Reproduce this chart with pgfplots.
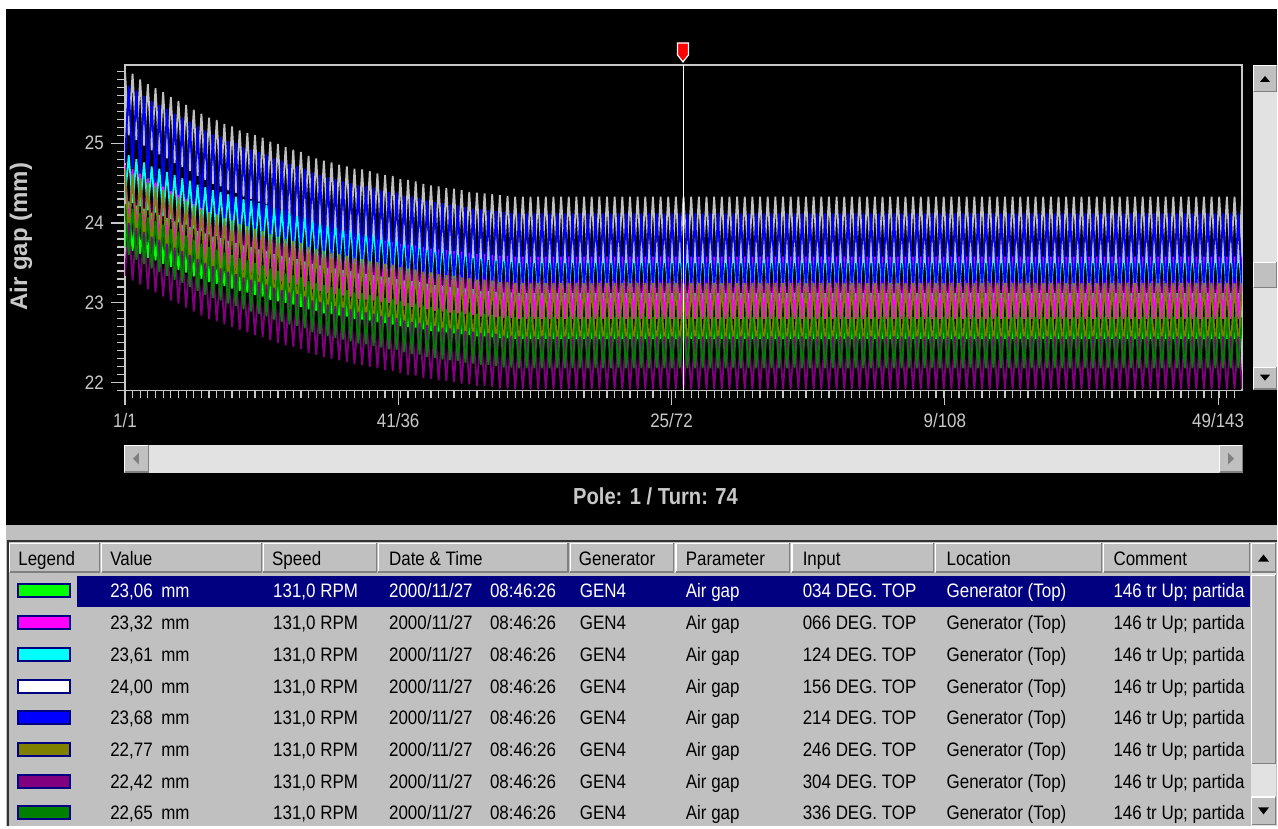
\documentclass[border=0pt]{standalone}
\usepackage{pgfplots}
\pgfplotsset{compat=1.18}
\usepackage{pgfplotstable}
\usepackage{fontspec}
\setmainfont{Liberation Sans}
\newfontfamily\uif{Liberation Sans}[FakeStretch=0.87]
\newcommand\uisize{\fontsize{9.75pt}{11pt}\selectfont}
\definecolor{lg}{RGB}{200,200,200}
\definecolor{sg}{RGB}{0,255,0}
\definecolor{sm}{RGB}{255,0,255}
\definecolor{sc}{RGB}{0,255,255}
\definecolor{sw}{RGB}{192,192,192}
\definecolor{sb}{RGB}{0,0,255}
\definecolor{so}{RGB}{128,128,0}
\definecolor{sp}{RGB}{128,0,128}
\definecolor{sd}{RGB}{0,128,0}
\definecolor{navy}{RGB}{0,0,128}
\definecolor{btn}{RGB}{192,192,192}
\definecolor{dk}{RGB}{128,128,128}
\definecolor{dith}{RGB}{226,226,226}

\pgfplotstableread{
g m c w b o p d
23.70 24.73 24.30 25.93 24.75 24.67 23.34 24.24
24.27 23.95 24.85 25.10 25.72 23.82 24.00 23.60
23.65 24.68 24.25 25.87 24.69 24.61 23.28 24.18
24.22 23.90 24.80 25.04 25.66 23.76 23.94 23.54
23.61 24.64 24.21 25.80 24.62 24.56 23.23 24.13
24.18 23.86 24.76 24.97 25.59 23.71 23.89 23.49
23.56 24.59 24.16 25.74 24.56 24.50 23.17 24.07
24.13 23.81 24.71 24.91 25.53 23.65 23.83 23.43
23.53 24.56 24.13 25.69 24.51 24.46 23.13 24.03
24.10 23.78 24.68 24.86 25.48 23.61 23.79 23.39
23.49 24.52 24.09 25.64 24.46 24.41 23.08 23.98
24.06 23.74 24.64 24.81 25.43 23.56 23.74 23.34
23.45 24.48 24.05 25.58 24.40 24.36 23.03 23.93
24.02 23.70 24.60 24.75 25.37 23.51 23.69 23.29
23.41 24.44 24.01 25.53 24.35 24.32 22.99 23.89
23.98 23.66 24.56 24.70 25.32 23.47 23.65 23.25
23.38 24.41 23.98 25.48 24.30 24.27 22.94 23.84
23.95 23.63 24.53 24.65 25.27 23.42 23.60 23.20
23.33 24.36 23.93 25.42 24.24 24.22 22.89 23.79
23.90 23.58 24.48 24.59 25.21 23.37 23.55 23.15
23.30 24.33 23.90 25.37 24.19 24.17 22.84 23.74
23.87 23.55 24.45 24.54 25.16 23.32 23.50 23.10
23.26 24.29 23.86 25.32 24.14 24.13 22.80 23.70
23.83 23.51 24.41 24.49 25.11 23.28 23.46 23.06
23.24 24.27 23.84 25.29 24.11 24.10 22.77 23.67
23.81 23.49 24.39 24.46 25.08 23.25 23.43 23.03
23.21 24.24 23.81 25.24 24.06 24.06 22.73 23.63
23.78 23.46 24.36 24.41 25.03 23.21 23.39 22.99
23.18 24.21 23.78 25.21 24.03 24.03 22.70 23.60
23.75 23.43 24.33 24.38 25.00 23.18 23.36 22.96
23.15 24.18 23.75 25.16 23.98 23.99 22.66 23.56
23.72 23.40 24.30 24.33 24.95 23.14 23.32 22.92
23.13 24.16 23.73 25.13 23.95 23.96 22.63 23.53
23.70 23.38 24.28 24.30 24.92 23.11 23.29 22.89
23.10 24.13 23.70 25.10 23.92 23.93 22.60 23.50
23.67 23.35 24.25 24.27 24.89 23.08 23.26 22.86
23.08 24.11 23.68 25.07 23.89 23.90 22.57 23.47
23.65 23.33 24.23 24.24 24.86 23.05 23.23 22.83
23.04 24.07 23.64 25.02 23.84 23.86 22.53 23.43
23.61 23.29 24.19 24.19 24.81 23.01 23.19 22.79
23.02 24.05 23.62 24.99 23.81 23.83 22.50 23.40
23.59 23.27 24.17 24.16 24.78 22.98 23.16 22.76
23.00 24.03 23.60 24.95 23.77 23.80 22.47 23.37
23.57 23.25 24.15 24.12 24.74 22.95 23.13 22.73
22.98 24.01 23.58 24.92 23.74 23.78 22.45 23.35
23.55 23.23 24.13 24.09 24.71 22.93 23.11 22.71
22.95 23.98 23.55 24.89 23.71 23.75 22.42 23.32
23.52 23.20 24.10 24.06 24.68 22.90 23.08 22.68
22.92 23.95 23.52 24.84 23.66 23.70 22.37 23.27
23.49 23.17 24.07 24.01 24.63 22.85 23.03 22.63
22.90 23.93 23.50 24.81 23.63 23.68 22.35 23.25
23.47 23.15 24.05 23.98 24.60 22.83 23.01 22.61
22.87 23.90 23.47 24.78 23.60 23.65 22.32 23.22
23.44 23.12 24.02 23.95 24.57 22.80 22.98 22.58
22.86 23.89 23.46 24.76 23.58 23.63 22.30 23.20
23.43 23.11 24.01 23.93 24.55 22.78 22.96 22.56
22.84 23.87 23.44 24.73 23.55 23.61 22.28 23.18
23.41 23.09 23.99 23.90 24.52 22.76 22.94 22.54
22.83 23.86 23.43 24.71 23.53 23.59 22.26 23.16
23.40 23.08 23.98 23.88 24.50 22.74 22.92 22.52
22.80 23.83 23.40 24.68 23.50 23.56 22.23 23.13
23.37 23.05 23.95 23.85 24.47 22.71 22.89 22.49
22.79 23.82 23.39 24.67 23.49 23.55 22.22 23.12
23.36 23.04 23.94 23.84 24.46 22.70 22.88 22.48
22.78 23.81 23.38 24.65 23.47 23.53 22.20 23.10
23.35 23.03 23.93 23.82 24.44 22.68 22.86 22.46
22.76 23.79 23.36 24.62 23.44 23.51 22.18 23.08
23.33 23.01 23.91 23.79 24.41 22.66 22.84 22.44
22.75 23.78 23.35 24.60 23.42 23.49 22.16 23.06
23.32 23.00 23.90 23.77 24.39 22.64 22.82 22.42
22.73 23.76 23.33 24.59 23.41 23.48 22.15 23.05
23.30 22.98 23.88 23.76 24.38 22.63 22.81 22.41
22.71 23.74 23.31 24.55 23.37 23.45 22.12 23.02
23.28 22.96 23.86 23.72 24.34 22.60 22.78 22.38
22.70 23.73 23.30 24.54 23.36 23.43 22.10 23.00
23.27 22.95 23.85 23.71 24.33 22.58 22.76 22.36
22.69 23.72 23.29 24.52 23.34 23.42 22.09 22.99
23.26 22.94 23.84 23.69 24.31 22.57 22.75 22.35
22.67 23.70 23.27 24.49 23.31 23.39 22.06 22.96
23.24 22.92 23.82 23.66 24.28 22.54 22.72 22.32
22.65 23.68 23.25 24.47 23.29 23.38 22.05 22.95
23.22 22.90 23.80 23.64 24.26 22.53 22.71 22.31
22.64 23.67 23.24 24.46 23.28 23.36 22.03 22.93
23.21 22.89 23.79 23.63 24.25 22.51 22.69 22.29
22.63 23.66 23.23 24.44 23.26 23.35 22.02 22.92
23.20 22.88 23.78 23.61 24.23 22.50 22.68 22.28
22.62 23.65 23.22 24.43 23.25 23.34 22.01 22.91
23.19 22.87 23.77 23.60 24.22 22.49 22.67 22.27
22.61 23.64 23.21 24.41 23.23 23.32 21.99 22.89
23.18 22.86 23.76 23.58 24.20 22.47 22.65 22.25
22.60 23.63 23.20 24.39 23.21 23.31 21.98 22.88
23.17 22.85 23.75 23.56 24.18 22.46 22.64 22.24
22.58 23.61 23.18 24.38 23.20 23.29 21.96 22.86
23.15 22.83 23.73 23.55 24.17 22.44 22.62 22.22
22.58 23.61 23.18 24.37 23.19 23.29 21.96 22.86
23.15 22.83 23.73 23.54 24.16 22.44 22.62 22.22
22.57 23.60 23.17 24.36 23.18 23.28 21.95 22.85
23.14 22.82 23.72 23.53 24.15 22.43 22.61 22.21
22.56 23.59 23.16 24.35 23.17 23.26 21.93 22.83
23.13 22.81 23.71 23.52 24.14 22.41 22.59 22.19
22.56 23.59 23.16 24.34 23.16 23.26 21.93 22.83
23.13 22.81 23.71 23.51 24.13 22.41 22.59 22.19
22.55 23.58 23.15 24.33 23.15 23.25 21.92 22.82
23.12 22.80 23.70 23.50 24.12 22.40 22.58 22.18
22.55 23.58 23.15 24.33 23.15 23.25 21.92 22.82
23.12 22.80 23.70 23.50 24.12 22.40 22.58 22.18
22.55 23.58 23.15 24.33 23.15 23.25 21.92 22.82
23.12 22.80 23.70 23.50 24.12 22.40 22.58 22.18
22.55 23.58 23.15 24.33 23.15 23.25 21.92 22.82
23.12 22.80 23.70 23.50 24.12 22.40 22.58 22.18
22.55 23.58 23.15 24.33 23.15 23.25 21.92 22.82
23.12 22.80 23.70 23.50 24.12 22.40 22.58 22.18
22.55 23.58 23.15 24.33 23.15 23.25 21.92 22.82
23.12 22.80 23.70 23.50 24.12 22.40 22.58 22.18
22.55 23.58 23.15 24.33 23.15 23.25 21.92 22.82
23.12 22.80 23.70 23.50 24.12 22.40 22.58 22.18
22.55 23.58 23.15 24.33 23.15 23.25 21.92 22.82
23.12 22.80 23.70 23.50 24.12 22.40 22.58 22.18
22.55 23.58 23.15 24.33 23.15 23.25 21.92 22.82
23.12 22.80 23.70 23.50 24.12 22.40 22.58 22.18
22.55 23.58 23.15 24.33 23.15 23.25 21.92 22.82
23.12 22.80 23.70 23.50 24.12 22.40 22.58 22.18
22.55 23.58 23.15 24.33 23.15 23.25 21.92 22.82
23.12 22.80 23.70 23.50 24.12 22.40 22.58 22.18
22.55 23.58 23.15 24.33 23.15 23.25 21.92 22.82
23.12 22.80 23.70 23.50 24.12 22.40 22.58 22.18
22.55 23.58 23.15 24.33 23.15 23.25 21.92 22.82
23.12 22.80 23.70 23.50 24.12 22.40 22.58 22.18
22.55 23.58 23.15 24.33 23.15 23.25 21.92 22.82
23.12 22.80 23.70 23.50 24.12 22.40 22.58 22.18
22.55 23.58 23.15 24.33 23.15 23.25 21.92 22.82
23.12 22.80 23.70 23.50 24.12 22.40 22.58 22.18
22.55 23.58 23.15 24.33 23.15 23.25 21.92 22.82
23.12 22.80 23.70 23.50 24.12 22.40 22.58 22.18
22.55 23.58 23.15 24.33 23.15 23.25 21.92 22.82
23.12 22.80 23.70 23.50 24.12 22.40 22.58 22.18
22.55 23.58 23.15 24.33 23.15 23.25 21.92 22.82
23.12 22.80 23.70 23.50 24.12 22.40 22.58 22.18
22.55 23.58 23.15 24.33 23.15 23.25 21.92 22.82
23.12 22.80 23.70 23.50 24.12 22.40 22.58 22.18
22.55 23.58 23.15 24.33 23.15 23.25 21.92 22.82
23.12 22.80 23.70 23.50 24.12 22.40 22.58 22.18
22.55 23.58 23.15 24.33 23.15 23.25 21.92 22.82
23.12 22.80 23.70 23.50 24.12 22.40 22.58 22.18
22.55 23.58 23.15 24.33 23.15 23.25 21.92 22.82
23.12 22.80 23.70 23.50 24.12 22.40 22.58 22.18
22.55 23.58 23.15 24.33 23.15 23.25 21.92 22.82
23.12 22.80 23.70 23.50 24.12 22.40 22.58 22.18
22.55 23.58 23.15 24.33 23.15 23.25 21.92 22.82
23.12 22.80 23.70 23.50 24.12 22.40 22.58 22.18
22.55 23.58 23.15 24.33 23.15 23.25 21.92 22.82
23.12 22.80 23.70 23.50 24.12 22.40 22.58 22.18
22.55 23.58 23.15 24.33 23.15 23.25 21.92 22.82
23.12 22.80 23.70 23.50 24.12 22.40 22.58 22.18
22.55 23.58 23.15 24.33 23.15 23.25 21.92 22.82
23.12 22.80 23.70 23.50 24.12 22.40 22.58 22.18
22.55 23.58 23.15 24.33 23.15 23.25 21.92 22.82
23.12 22.80 23.70 23.50 24.12 22.40 22.58 22.18
22.55 23.58 23.15 24.33 23.15 23.25 21.92 22.82
23.12 22.80 23.70 23.50 24.12 22.40 22.58 22.18
22.55 23.58 23.15 24.33 23.15 23.25 21.92 22.82
23.12 22.80 23.70 23.50 24.12 22.40 22.58 22.18
22.55 23.58 23.15 24.33 23.15 23.25 21.92 22.82
23.12 22.80 23.70 23.50 24.12 22.40 22.58 22.18
22.55 23.58 23.15 24.33 23.15 23.25 21.92 22.82
23.12 22.80 23.70 23.50 24.12 22.40 22.58 22.18
22.55 23.58 23.15 24.33 23.15 23.25 21.92 22.82
23.12 22.80 23.70 23.50 24.12 22.40 22.58 22.18
22.55 23.58 23.15 24.33 23.15 23.25 21.92 22.82
23.12 22.80 23.70 23.50 24.12 22.40 22.58 22.18
22.55 23.58 23.15 24.33 23.15 23.25 21.92 22.82
23.12 22.80 23.70 23.50 24.12 22.40 22.58 22.18
22.55 23.58 23.15 24.33 23.15 23.25 21.92 22.82
23.12 22.80 23.70 23.50 24.12 22.40 22.58 22.18
22.55 23.58 23.15 24.33 23.15 23.25 21.92 22.82
23.12 22.80 23.70 23.50 24.12 22.40 22.58 22.18
22.55 23.58 23.15 24.33 23.15 23.25 21.92 22.82
23.12 22.80 23.70 23.50 24.12 22.40 22.58 22.18
22.55 23.58 23.15 24.33 23.15 23.25 21.92 22.82
23.12 22.80 23.70 23.50 24.12 22.40 22.58 22.18
22.55 23.58 23.15 24.33 23.15 23.25 21.92 22.82
23.12 22.80 23.70 23.50 24.12 22.40 22.58 22.18
22.55 23.58 23.15 24.33 23.15 23.25 21.92 22.82
23.12 22.80 23.70 23.50 24.12 22.40 22.58 22.18
22.55 23.58 23.15 24.33 23.15 23.25 21.92 22.82
23.12 22.80 23.70 23.50 24.12 22.40 22.58 22.18
22.55 23.58 23.15 24.33 23.15 23.25 21.92 22.82
23.12 22.80 23.70 23.50 24.12 22.40 22.58 22.18
22.55 23.58 23.15 24.33 23.15 23.25 21.92 22.82
23.12 22.80 23.70 23.50 24.12 22.40 22.58 22.18
22.55 23.58 23.15 24.33 23.15 23.25 21.92 22.82
23.12 22.80 23.70 23.50 24.12 22.40 22.58 22.18
22.55 23.58 23.15 24.33 23.15 23.25 21.92 22.82
23.12 22.80 23.70 23.50 24.12 22.40 22.58 22.18
22.55 23.58 23.15 24.33 23.15 23.25 21.92 22.82
23.12 22.80 23.70 23.50 24.12 22.40 22.58 22.18
22.55 23.58 23.15 24.33 23.15 23.25 21.92 22.82
23.12 22.80 23.70 23.50 24.12 22.40 22.58 22.18
22.55 23.58 23.15 24.33 23.15 23.25 21.92 22.82
23.12 22.80 23.70 23.50 24.12 22.40 22.58 22.18
22.55 23.58 23.15 24.33 23.15 23.25 21.92 22.82
23.12 22.80 23.70 23.50 24.12 22.40 22.58 22.18
22.55 23.58 23.15 24.33 23.15 23.25 21.92 22.82
23.12 22.80 23.70 23.50 24.12 22.40 22.58 22.18
22.55 23.58 23.15 24.33 23.15 23.25 21.92 22.82
23.12 22.80 23.70 23.50 24.12 22.40 22.58 22.18
22.55 23.58 23.15 24.33 23.15 23.25 21.92 22.82
23.12 22.80 23.70 23.50 24.12 22.40 22.58 22.18
22.55 23.58 23.15 24.33 23.15 23.25 21.92 22.82
23.12 22.80 23.70 23.50 24.12 22.40 22.58 22.18
22.55 23.58 23.15 24.33 23.15 23.25 21.92 22.82
23.12 22.80 23.70 23.50 24.12 22.40 22.58 22.18
22.55 23.58 23.15 24.33 23.15 23.25 21.92 22.82
23.12 22.80 23.70 23.50 24.12 22.40 22.58 22.18
22.55 23.58 23.15 24.33 23.15 23.25 21.92 22.82
23.12 22.80 23.70 23.50 24.12 22.40 22.58 22.18
22.55 23.58 23.15 24.33 23.15 23.25 21.92 22.82
23.12 22.80 23.70 23.50 24.12 22.40 22.58 22.18
22.55 23.58 23.15 24.33 23.15 23.25 21.92 22.82
23.12 22.80 23.70 23.50 24.12 22.40 22.58 22.18
22.55 23.58 23.15 24.33 23.15 23.25 21.92 22.82
23.12 22.80 23.70 23.50 24.12 22.40 22.58 22.18
22.55 23.58 23.15 24.33 23.15 23.25 21.92 22.82
23.12 22.80 23.70 23.50 24.12 22.40 22.58 22.18
22.55 23.58 23.15 24.33 23.15 23.25 21.92 22.82
23.12 22.80 23.70 23.50 24.12 22.40 22.58 22.18
22.55 23.58 23.15 24.33 23.15 23.25 21.92 22.82
23.12 22.80 23.70 23.50 24.12 22.40 22.58 22.18
22.55 23.58 23.15 24.33 23.15 23.25 21.92 22.82
23.12 22.80 23.70 23.50 24.12 22.40 22.58 22.18
22.55 23.58 23.15 24.33 23.15 23.25 21.92 22.82
23.12 22.80 23.70 23.50 24.12 22.40 22.58 22.18
22.55 23.58 23.15 24.33 23.15 23.25 21.92 22.82
23.12 22.80 23.70 23.50 24.12 22.40 22.58 22.18
22.55 23.58 23.15 24.33 23.15 23.25 21.92 22.82
23.12 22.80 23.70 23.50 24.12 22.40 22.58 22.18
22.55 23.58 23.15 24.33 23.15 23.25 21.92 22.82
23.12 22.80 23.70 23.50 24.12 22.40 22.58 22.18
22.55 23.58 23.15 24.33 23.15 23.25 21.92 22.82
23.12 22.80 23.70 23.50 24.12 22.40 22.58 22.18
22.55 23.58 23.15 24.33 23.15 23.25 21.92 22.82
23.12 22.80 23.70 23.50 24.12 22.40 22.58 22.18
22.55 23.58 23.15 24.33 23.15 23.25 21.92 22.82
23.12 22.80 23.70 23.50 24.12 22.40 22.58 22.18
22.55 23.58 23.15 24.33 23.15 23.25 21.92 22.82
23.12 22.80 23.70 23.50 24.12 22.40 22.58 22.18
22.55 23.58 23.15 24.33 23.15 23.25 21.92 22.82
23.12 22.80 23.70 23.50 24.12 22.40 22.58 22.18
22.55 23.58 23.15 24.33 23.15 23.25 21.92 22.82
23.12 22.80 23.70 23.50 24.12 22.40 22.58 22.18
22.55 23.58 23.15 24.33 23.15 23.25 21.92 22.82
23.12 22.80 23.70 23.50 24.12 22.40 22.58 22.18
22.55 23.58 23.15 24.33 23.15 23.25 21.92 22.82
23.12 22.80 23.70 23.50 24.12 22.40 22.58 22.18
22.55 23.58 23.15 24.33 23.15 23.25 21.92 22.82
23.12 22.80 23.70 23.50 24.12 22.40 22.58 22.18
22.55 23.58 23.15 24.33 23.15 23.25 21.92 22.82
23.12 22.80 23.70 23.50 24.12 22.40 22.58 22.18
22.55 23.58 23.15 24.33 23.15 23.25 21.92 22.82
23.12 22.80 23.70 23.50 24.12 22.40 22.58 22.18
22.55 23.58 23.15 24.33 23.15 23.25 21.92 22.82
23.12 22.80 23.70 23.50 24.12 22.40 22.58 22.18
22.55 23.58 23.15 24.33 23.15 23.25 21.92 22.82
23.12 22.80 23.70 23.50 24.12 22.40 22.58 22.18
22.55 23.58 23.15 24.33 23.15 23.25 21.92 22.82
23.12 22.80 23.70 23.50 24.12 22.40 22.58 22.18
22.55 23.58 23.15 24.33 23.15 23.25 21.92 22.82
23.12 22.80 23.70 23.50 24.12 22.40 22.58 22.18
22.55 23.58 23.15 24.33 23.15 23.25 21.92 22.82
23.12 22.80 23.70 23.50 24.12 22.40 22.58 22.18
22.55 23.58 23.15 24.33 23.15 23.25 21.92 22.82
23.12 22.80 23.70 23.50 24.12 22.40 22.58 22.18
22.55 23.58 23.15 24.33 23.15 23.25 21.92 22.82
23.12 22.80 23.70 23.50 24.12 22.40 22.58 22.18
22.55 23.58 23.15 24.33 23.15 23.25 21.92 22.82
23.12 22.80 23.70 23.50 24.12 22.40 22.58 22.18
22.55 23.58 23.15 24.33 23.15 23.25 21.92 22.82
23.12 22.80 23.70 23.50 24.12 22.40 22.58 22.18
22.55 23.58 23.15 24.33 23.15 23.25 21.92 22.82
23.12 22.80 23.70 23.50 24.12 22.40 22.58 22.18
22.55 23.58 23.15 24.33 23.15 23.25 21.92 22.82
23.12 22.80 23.70 23.50 24.12 22.40 22.58 22.18
22.55 23.58 23.15 24.33 23.15 23.25 21.92 22.82
23.12 22.80 23.70 23.50 24.12 22.40 22.58 22.18
22.55 23.58 23.15 24.33 23.15 23.25 21.92 22.82
23.12 22.80 23.70 23.50 24.12 22.40 22.58 22.18
22.55 23.58 23.15 24.33 23.15 23.25 21.92 22.82
23.12 22.80 23.70 23.50 24.12 22.40 22.58 22.18
22.55 23.58 23.15 24.33 23.15 23.25 21.92 22.82
23.12 22.80 23.70 23.50 24.12 22.40 22.58 22.18
22.55 23.58 23.15 24.33 23.15 23.25 21.92 22.82
23.12 22.80 23.70 23.50 24.12 22.40 22.58 22.18
22.55 23.58 23.15 24.33 23.15 23.25 21.92 22.82
23.12 22.80 23.70 23.50 24.12 22.40 22.58 22.18
22.55 23.58 23.15 24.33 23.15 23.25 21.92 22.82
23.12 22.80 23.70 23.50 24.12 22.40 22.58 22.18
22.55 23.58 23.15 24.33 23.15 23.25 21.92 22.82
23.12 22.80 23.70 23.50 24.12 22.40 22.58 22.18
22.55 23.58 23.15 24.33 23.15 23.25 21.92 22.82
23.12 22.80 23.70 23.50 24.12 22.40 22.58 22.18
22.55 23.58 23.15 24.33 23.15 23.25 21.92 22.82
23.12 22.80 23.70 23.50 24.12 22.40 22.58 22.18
22.55 23.58 23.15 24.33 23.15 23.25 21.92 22.82
23.12 22.80 23.70 23.50 24.12 22.40 22.58 22.18
}\dat

\newcommand\raised[4]{%
  \fill[btn] (#1,#2) rectangle (#3,#4);
  \draw[white,line width=0.6pt] (#1+0.6,#4-0.6) -- (#1+0.6,#2+0.6) -- (#3-0.6,#2+0.6);
  \draw[dk,line width=0.6pt] (#1+0.6,#4-0.6) -- (#3-0.6,#4-0.6) -- (#3-0.6,#2+0.6);
}
\newcommand\hcell[4]{% x1 x2 textx text
  \raised{#1}{543}{#2}{573}
  \node[anchor=base west,inner sep=0pt,font=\uif\uisize] at (#3,566) {#4};
}
\newcommand\trow[5]{% y swatch value input textcolor
  \filldraw[fill=#2,draw=navy,line width=0.8pt] (18,#1-6.5) rectangle (70,#1+6.5);
  \begin{scope}[every node/.style={anchor=base west,inner sep=0pt,text=#5,font=\uif\uisize}]
    \node at (110,#1+7) {#3};
    \node at (161,#1+7) {mm};
    \node at (273,#1+7) {131,0 RPM};
    \node at (389,#1+7) {2000/11/27};
    \node at (490,#1+7) {08:46:26};
    \node at (580,#1+7) {GEN4};
    \node at (686,#1+7) {Air gap};
    \node at (803,#1+7) {#4};
    \node at (947,#1+7) {Generator (Top)};
    \begin{scope}
      \clip (1104,#1-16) rectangle (1250,#1+16);
      \node at (1114,#1+7) {146 tr Up; partida ...};
    \end{scope}
  \end{scope}
}

\begin{document}
\begin{tikzpicture}
\begin{scope}[x=0.5pt,y=-0.5pt]
  % backgrounds
  \fill[white] (0,0) rectangle (1278,827);
  \fill[black] (6,9) rectangle (1278,525);
  \fill[btn] (6,525) rectangle (1278,827);
  \draw[black!80,line width=1pt] (8,827) -- (8,541) -- (1278,541);
  % vertical scrollbar of plot
  \fill[dith] (1254,65) rectangle (1278,390);
  \raised{1254}{65}{1278}{92}
  \fill[black] (1261,82) -- (1271,82) -- (1266,76) -- cycle;
  \raised{1254}{262}{1278}{288}
  \raised{1254}{367}{1278}{390}
  \fill[black] (1261,375) -- (1271,375) -- (1266,381) -- cycle;
  % horizontal scrollbar
  \fill[dith] (124,445) rectangle (1244,473);
  \raised{124}{445}{149}{473}
  \fill[dk] (139,453) -- (139,465) -- (133,459) -- cycle;
  \raised{1220}{445}{1244}{473}
  \fill[dk] (1229,453) -- (1229,465) -- (1235,459) -- cycle;
  % labels
  \node[rotate=90,font=\bfseries\fontsize{12pt}{14pt}\selectfont,text=lg] at (21,237) {Air gap (mm)};
  \node[font=\uif\bfseries\fontsize{11.6pt}{13pt}\selectfont,text=lg] at (656,497) {Pole: 1 / Turn: 74};
  % table header
  \hcell{9}{100}{18}{Legend}
  \hcell{101}{262}{110}{Value}
  \hcell{263}{377}{272}{Speed}
  \hcell{378}{569}{389}{Date \& Time}
  \hcell{570}{675}{579}{Generator}
  \hcell{676}{791}{686}{Parameter}
  \hcell{792}{935}{803}{Input}
  \hcell{936}{1103}{947}{Location}
  \hcell{1104}{1251}{1114}{Comment}
  % table scrollbar
  \fill[dith] (1252,543) rectangle (1277,827);
  \raised{1252}{543}{1277}{573}
  \fill[black] (1259,562) -- (1270,562) -- (1264.5,555) -- cycle;
  \raised{1252}{575}{1277}{765}
  \raised{1252}{797}{1277}{826}
  \fill[black] (1259,808) -- (1270,808) -- (1264.5,815) -- cycle;
  % selected row
  \fill[navy] (77,576) rectangle (1251,607);
  \trow{591}{sg}{23,06}{034 DEG. TOP}{white}
  \trow{623}{sm}{23,32}{066 DEG. TOP}{black}
  \trow{655}{sc}{23,61}{124 DEG. TOP}{black}
  \trow{687}{white}{24,00}{156 DEG. TOP}{black}
  \trow{718}{sb}{23,68}{214 DEG. TOP}{black}
  \trow{750}{so}{22,77}{246 DEG. TOP}{black}
  \trow{782}{sp}{22,42}{304 DEG. TOP}{black}
  \trow{813}{sd}{22,65}{336 DEG. TOP}{black}
\end{scope}

\begin{axis}[
  at={(62.5pt,-195.5pt)}, anchor=south west,
  scale only axis, width=559pt, height=163pt,
  xmin=1, xmax=8176, ymin=21.9, ymax=25.98,
  axis line style={draw=lg, line width=0.75pt},
  tick align=outside, tick pos=left,
  xtick={1,2001,4001,6001,8001},
  xticklabels={1/1,41/36,25/72,9/108,49/143},
  minor xtick={1,57,...,8176},
  ytick={22,23,24,25},
  minor ytick={21.9,22,...,25.95},
  major tick length=7pt, minor tick length=3.8pt,
  tick style={draw=lg, line width=0.6pt},
  ticklabel style={font=\uif\uisize, text=lg},
  /pgf/number format/assume math mode=true,
  xticklabel shift=1pt,
  every axis plot/.append style={line width=0.9pt, line join=bevel, mark=none},
]
\addplot[draw=sg] table[x expr=\coordindex*28+1, y=g] {\dat};
\addplot[draw=sm] table[x expr=\coordindex*28+1, y=m] {\dat};
\addplot[draw=sc] table[x expr=\coordindex*28+1, y=c] {\dat};
\addplot[draw=sw] table[x expr=\coordindex*28+1, y=w] {\dat};
\addplot[draw=sb] table[x expr=\coordindex*28+1, y=b] {\dat};
\addplot[draw=so] table[x expr=\coordindex*28+1, y=o] {\dat};
\addplot[draw=sp] table[x expr=\coordindex*28+1, y=p] {\dat};
\addplot[draw=sd] table[x expr=\coordindex*28+1, y=d] {\dat};
\addplot[draw=white, line width=0.6pt] coordinates {(4089,21.9) (4089,25.98)};
\end{axis}

\begin{scope}[x=0.5pt,y=-0.5pt]
  \filldraw[fill=red,draw=white,line width=0.6pt] (678,43) -- (689,43) -- (689,55) -- (683.5,62) -- (678,55) -- cycle;
\end{scope}
\end{tikzpicture}
\end{document}
